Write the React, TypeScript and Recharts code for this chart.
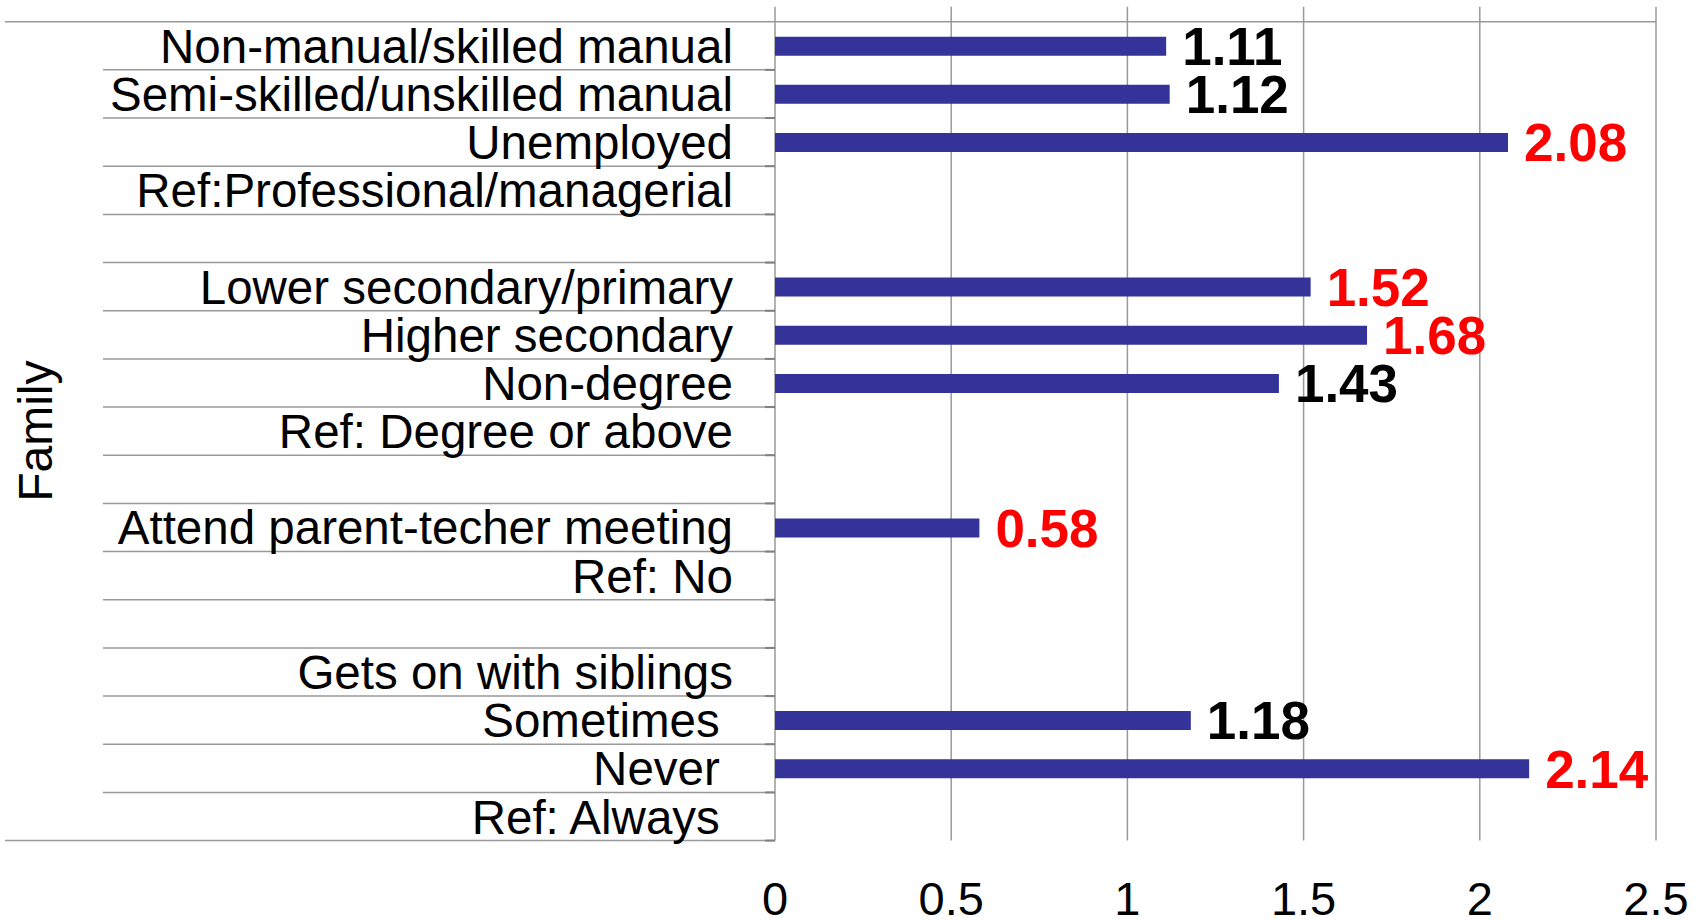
import { BarChart, Bar, XAxis, YAxis, CartesianGrid, LabelList } from "recharts";

// rows top to bottom; blank rows separate the groups
const categories = [
  "Non-manual/skilled manual",
  "Semi-skilled/unskilled manual",
  "Unemployed",
  "Ref:Professional/managerial",
  "",
  "Lower secondary/primary",
  "Higher secondary",
  "Non-degree",
  "Ref: Degree or above",
  "",
  "Attend parent-techer meeting",
  "Ref: No",
  "",
  "Gets on with siblings",
  "Sometimes\u00a0",
  "Never\u00a0",
  "Ref: Always\u00a0",
];

const oddsRatios = [
  1.11, 1.12, 2.08, null, null, 1.52, 1.68, 1.43, null, null, 0.58, null, null, null, 1.18, 2.14, null,
];

// red labels = significant
const significant = [
  false, false, true, false, false, true, true, false, false, false, true, false, false, false, false, true, false,
];

const xTicks = [0, 0.5, 1, 1.5, 2, 2.5];

const W = 1705;
const H = 920;
const TOP = 21.7;
const BOTTOM = 840.6;
const PLOT_LEFT = 775;
const PLOT_RIGHT = 1656;
const X_AXIS_H = 60;
const BAND = (BOTTOM - TOP) / categories.length;
const LINE = "#999999";

const data = categories.map((label, i) => ({
  label,
  value: oddsRatios[i],
  sig: significant[i] ? oddsRatios[i] : null,
  nonsig: significant[i] ? null : oddsRatios[i],
}));

function CategoryTick(props: any) {
  const { x, y, payload, index } = props;
  const bottomY = y + BAND / 2;
  const last = index === categories.length - 1;
  return (
    <g>
      {index === 0 && (
        <line x1={5} x2={PLOT_RIGHT} y1={y - BAND / 2} y2={y - BAND / 2} stroke={LINE} strokeWidth={1.5} />
      )}
      <line x1={last ? 5 : 103} x2={x} y1={bottomY} y2={bottomY} stroke={LINE} strokeWidth={1.5} />
      <line x1={x - 10} x2={x} y1={bottomY} y2={bottomY} stroke="#808080" strokeWidth={2} />
      <text x={x - 42} y={y + 17} textAnchor="end" fontSize={47.5} fill="#000">
        {payload.value}
      </text>
    </g>
  );
}

function ValueTick(props: any) {
  const { x, y, payload } = props;
  return (
    <text x={x} y={y + 74} textAnchor="middle" fontSize={47} fill="#000">
      {payload.value}
    </text>
  );
}

export default function App() {
  return (
    <div style={{ position: "absolute", left: 0, top: 0, fontFamily: "'Liberation Sans', Arial, sans-serif" }}>
      <BarChart
        width={W}
        height={H}
        data={data}
        layout="vertical"
        margin={{ top: TOP, right: W - PLOT_RIGHT, left: 5, bottom: H - BOTTOM - X_AXIS_H }}
      >
        <CartesianGrid
          horizontal={false}
          vertical={(p: any) => (
            <line
              key={`v-${p.index}-${p.x1}`}
              x1={p.x1}
              x2={p.x2}
              y1={p.y1 - 15}
              y2={p.y2}
              stroke={LINE}
              strokeWidth={1.5}
            />
          )}
        />
        <XAxis
          type="number"
          domain={[0, 2.5]}
          ticks={xTicks}
          height={X_AXIS_H}
          axisLine={false}
          tickLine={false}
          tickSize={0}
          tickMargin={0}
          tick={<ValueTick />}
        />
        <YAxis
          type="category"
          dataKey="label"
          width={PLOT_LEFT - 5}
          interval={0}
          axisLine={false}
          tickLine={false}
          tickSize={0}
          tickMargin={0}
          tick={<CategoryTick />}
          label={{
            content: (p: any) => {
              const vb = p.viewBox || { x: 5, y: TOP, height: BOTTOM - TOP };
              const cx = 36;
              const cy = vb.y + vb.height / 2;
              return (
                <text
                  x={cx}
                  y={cy}
                  transform={`rotate(-90 ${cx} ${cy})`}
                  textAnchor="middle"
                  dominantBaseline="central"
                  fontSize={48}
                  fill="#000"
                >
                  Family
                </text>
              );
            },
          }}
        />
        <Bar dataKey="value" fill="#333399" barSize={19} isAnimationActive={false}>
          <LabelList dataKey="sig" position="right" offset={16} fill="#ff0000" fontSize={53} fontWeight="bold" />
          <LabelList dataKey="nonsig" position="right" offset={16} fill="#000000" fontSize={53} fontWeight="bold" />
        </Bar>
      </BarChart>
    </div>
  );
}
